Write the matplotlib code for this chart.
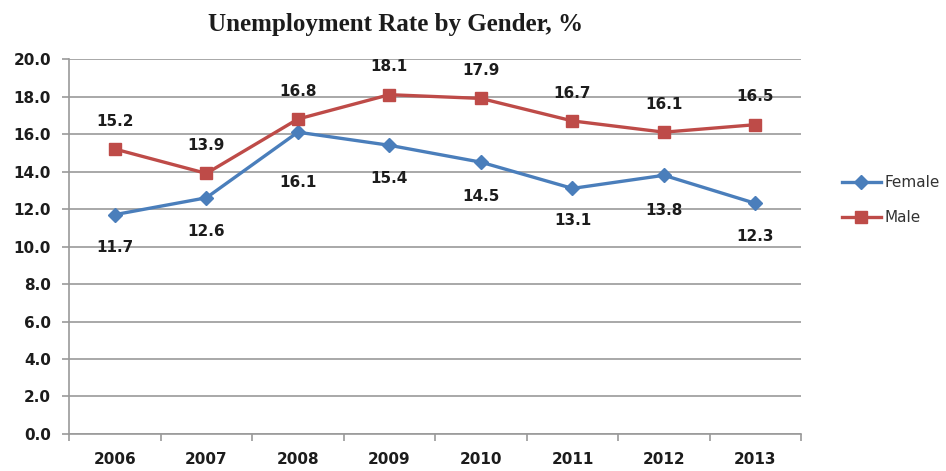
import matplotlib
matplotlib.use("Agg")
import matplotlib.pyplot as plt
import numpy as np

# data
years = ["2006", "2007", "2008", "2009", "2010", "2011", "2012", "2013"]
female = [11.7, 12.6, 16.1, 15.4, 14.5, 13.1, 13.8, 12.3]
male = [15.2, 13.9, 16.8, 18.1, 17.9, 16.7, 16.1, 16.5]
y_ticks = [0, 2, 4, 6, 8, 10, 12, 14, 16, 18, 20]

blue = "#4A7EBB"
red = "#BE4B48"
text_col = "#1C1C1C"
grid_col = "#9A9A9A"

fig = plt.figure(figsize=(9.46, 4.71), dpi=100)
ax = fig.add_axes([0.073, 0.0786, 0.774, 0.796])

x = np.arange(len(years))
ax.plot(x, female, color=blue, lw=2.4, marker="D", ms=7, label="Female", zorder=3)
ax.plot(x, male, color=red, lw=2.4, marker="s", ms=9, label="Male", zorder=3)

# data labels: male above, female below (2008 female pushed further down)
fem_off = [-24, -24, -36, -24, -25, -23, -25, -24]
for i, v in enumerate(female):
    ax.annotate(f"{v:.1f}", (x[i], v), xytext=(0, fem_off[i]), textcoords="offset points",
                ha="center", va="center", fontsize=11, fontweight="bold", color=text_col,
                family="DejaVu Sans")
for i, v in enumerate(male):
    ax.annotate(f"{v:.1f}", (x[i], v), xytext=(0, 20), textcoords="offset points",
                ha="center", va="center", fontsize=11, fontweight="bold", color=text_col,
                family="DejaVu Sans")

ax.set_xlim(-0.5, len(years) - 0.5)
ax.set_ylim(0, 20)
ax.set_yticks(y_ticks)
ax.set_yticklabels([f"{t:.1f}" for t in y_ticks], fontsize=11, fontweight="bold", color=text_col)
ax.yaxis.grid(True, color=grid_col, lw=1.2)
ax.set_axisbelow(True)

# category labels centred, tick marks between categories
ax.set_xticks(x)
ax.set_xticklabels(years, fontsize=11, fontweight="bold", color=text_col)
ax.tick_params(axis="x", which="major", length=0, pad=13)
ax.set_xticks(np.arange(-0.5, len(years), 1), minor=True)
ax.tick_params(axis="x", which="minor", length=5, color=grid_col, width=1.2)
ax.tick_params(axis="y", length=5, color=grid_col, width=1.2, pad=8)

for s in ["top", "right"]:
    ax.spines[s].set_visible(False)
for s in ["left", "bottom"]:
    ax.spines[s].set_color(grid_col)
    ax.spines[s].set_linewidth(1.2)

fig.text(0.418, 0.947, "Unemployment Rate by Gender, %", family="Liberation Serif",
         fontweight="bold", fontsize=18, color=text_col, ha="center", va="center")

fig.legend(loc="center left", bbox_to_anchor=(0.875, 0.575), frameon=False, fontsize=11,
           labelcolor="#333333", handlelength=2.6, labelspacing=1.3, handletextpad=0.2)

fig.savefig("out.png", dpi=100)
